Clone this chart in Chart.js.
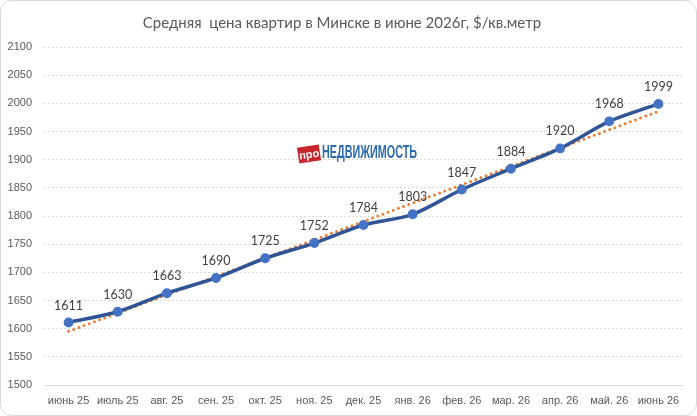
<!DOCTYPE html>
<html>
<head>
<meta charset="utf-8">
<script src="https://cdn.jsdelivr.net/npm/chart.js@4"></script>
<style>
  html,body{margin:0;padding:0;background:#fff}
  #wrap{position:relative;width:695px;height:414px;border:1px solid #d9d9d9;border-radius:12px;overflow:hidden}
  canvas{display:block}
</style>
</head>
<body>
<div id="wrap"><canvas id="c" width="695" height="414"></canvas></div>
<script>
const months = ['июнь 25','июль 25','авг. 25','сен. 25','окт. 25','ноя. 25','дек. 25','янв. 26','фев. 26','мар. 26','апр. 26','май. 26','июнь 26'];
const prices = [1611,1630,1663,1690,1725,1752,1784,1803,1847,1884,1920,1968,1999];
const chartTitle = 'Средняя  цена квартир в Минске в июне 2026г, $/кв.метр';

// linear trendline (least squares on the series itself, like Excel)
function trend(v){
  const n=v.length, mx=(n-1)/2, my=v.reduce((a,b)=>a+b,0)/n;
  let sxy=0,sxx=0;
  v.forEach((y,i)=>{sxy+=(i-mx)*(y-my);sxx+=(i-mx)*(i-mx)});
  const k=sxy/sxx;
  return v.map((_,i)=>my+k*(i-mx));
}

const valueLabels = {
  id:'valueLabels',
  afterDatasetsDraw(chart){
    const ctx=chart.ctx, meta=chart.getDatasetMeta(1);
    ctx.save();
    ctx.font='12.5px Lato, "Liberation Sans", sans-serif';
    ctx.fillStyle='#404040';
    ctx.textAlign='center';ctx.textBaseline='middle';
    meta.data.forEach((p,i)=>ctx.fillText(prices[i],p.x,p.y-17));
    ctx.restore();
  }
};

const logo = {
  id:'logo',
  afterDraw(chart){
    const ctx=chart.ctx;
    ctx.save();
    // red tag
    ctx.translate(308,153);
    ctx.rotate(-0.15);
    ctx.fillStyle='#c9252c';
    ctx.fillRect(-11,-8,22,16);
    ctx.fillStyle='#fff';
    ctx.font='bold 11px "Liberation Sans", sans-serif';
    ctx.textAlign='center';ctx.textBaseline='middle';
    ctx.fillText('про',0,1);
    ctx.restore();
    ctx.save();
    ctx.font='bold 19px "Liberation Sans Narrow", "Liberation Sans", sans-serif';
    const txt='НЕДВИЖИМОСТЬ', w=ctx.measureText(txt).width;
    ctx.translate(321,152);
    ctx.scale(95/w,1);
    ctx.fillStyle='#2d6bb3';
    ctx.textBaseline='middle';
    ctx.fillText(txt,0,0);
    ctx.restore();
  }
};

new Chart(document.getElementById('c').getContext('2d'),{
  type:'line',
  data:{labels:months,datasets:[
    {label:'Тренд',data:trend(prices),borderColor:'#ed7d31',borderWidth:3,borderDash:[0,5.5],borderCapStyle:'round',pointRadius:0,tension:0,order:2},
    {label:'Цена',data:prices,borderColor:'#2f5597',borderWidth:3.5,pointRadius:3.2,pointBackgroundColor:'#4472c4',pointBorderColor:'#4472c4',tension:0.3,order:1}
  ]},
  options:{
    responsive:false,animation:false,
    layout:{padding:{left:0,right:13,top:0,bottom:0}},
    plugins:{
      legend:{display:false},tooltip:{enabled:false},
      title:{display:true,text:chartTitle,color:'#595959',font:{family:'Lato, "Liberation Sans", sans-serif',size:15,weight:'normal'},padding:{top:13,bottom:15}}
    },
    scales:{
      x:{offset:true,grid:{display:false,drawTicks:false},border:{display:true,color:'#d9d9d9'},
        ticks:{color:'#595959',font:{family:'"Liberation Sans", sans-serif',size:11},padding:9,maxRotation:0,autoSkip:false},
        afterFit(s){s.height=30}},
      y:{min:1500,max:2100,grid:{color:'#d9d9d9',drawTicks:false},border:{display:false,dash:[2,2]},
        ticks:{stepSize:50,color:'#595959',font:{family:'"Liberation Sans", sans-serif',size:11},padding:12,callback:v=>String(v)},
        afterFit(s){s.width=43}}
    }
  },
  plugins:[valueLabels,logo]
});
</script>
</body>
</html>
